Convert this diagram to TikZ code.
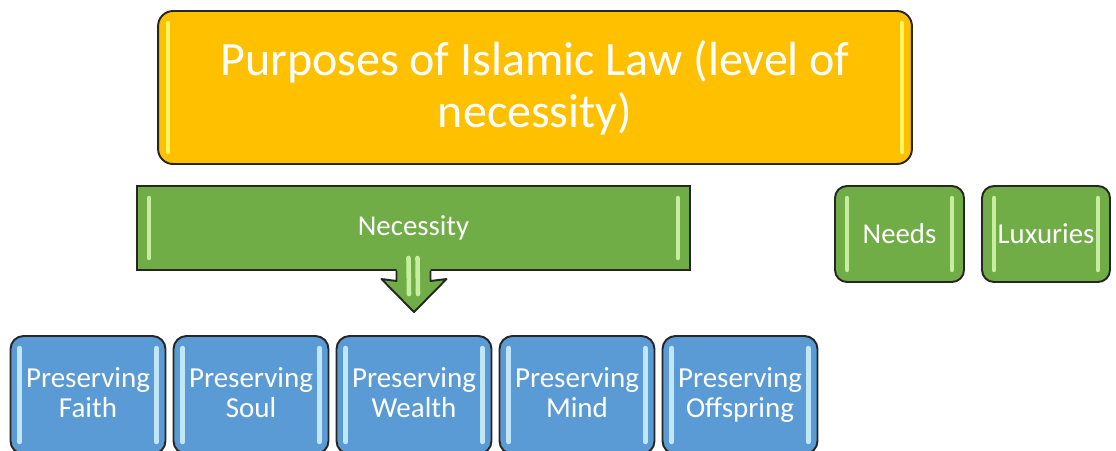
\documentclass[tikz,border=0pt]{standalone}
\usepackage{fontspec}
\setmainfont{Carlito}
\usetikzlibrary{calc}

\definecolor{goldbox}{HTML}{FFC000}
\definecolor{greenbox}{HTML}{70AD47}
\definecolor{bluebox}{HTML}{5B9BD5}
\definecolor{goldglint}{HTML}{FFFF70}
\definecolor{greenglint}{HTML}{D8F8B0}
\definecolor{blueglint}{HTML}{D4F4FF}

\tikzset{
	box/.style={draw=black!85, line width=1.1pt, text=white, align=center, inner sep=0pt},
	title/.style={box, fill=goldbox, rounded corners=0.3cm, minimum width=15.08cm, minimum height=3.06cm, font=\fontsize{27.3}{29.7}\selectfont},
	level/.style={box, fill=greenbox, font=\fontsize{16.4}{17.6}\selectfont},
	purpose/.style={box, fill=bluebox, rounded corners=0.26cm, minimum width=3.1cm, minimum height=2.36cm, font=\fontsize{16.5}{17.6}\selectfont},
	glint/.style={line width=2.6pt, line cap=round, opacity=0.85},
}

% light bevel bars inside a box: node, colour, inset
\newcommand{\glints}[3]{
	\draw[glint, #2] ($(#1.north west)+(#3,13)$) -- ($(#1.south west)+(#3,-13)$);
	\draw[glint, #2] ($(#1.north east)+(-#3,13)$) -- ($(#1.south east)+(-#3,-13)$);
}

\begin{document}
\begin{tikzpicture}[x=0.02cm, y=-0.02cm]
	\useasboundingbox (0,0) rectangle (1116,450);

	%title
	\node[title] (law) at (535, 87.5) {Purposes of Islamic Law (level of\\necessity)};
	\glints{law}{goldglint}{11}

	%levels
	\node[level, minimum width=11.06cm, minimum height=1.68cm] (nec) at (413.5, 228) {Necessity};
	\glints{nec}{greenglint}{13}
	\node[level, rounded corners=0.24cm, minimum width=2.58cm, minimum height=1.92cm] (needs) at (899.5, 234) {Needs};
	\glints{needs}{greenglint}{13}
	\node[level, rounded corners=0.24cm, minimum width=2.56cm, minimum height=1.92cm] (lux) at (1046, 234) {Luxuries};
	\glints{lux}{greenglint}{13}

	%purposes under necessity
	\foreach \name/\what [count=\i from 0] in {faith/Faith, soul/Soul, wealth/Wealth, mind/Mind, offspring/Offspring}{
		\node[purpose] (\name) at (88+163*\i, 395) {Preserving\\\what\vphantom{g}};
		\glints{\name}{blueglint}{10}
	}

	%block arrow
	\coordinate (tip) at ($(wealth.north)+(0,-23)$);
	\fill[greenbox] ($(nec.south)+(-17,-15)$) -- ($(nec.south)+(-17,10)$) -- ($(tip)+(-32.5,-33)$)
		-- (tip) -- ($(tip)+(32.5,-33)$) -- ($(nec.south)+(17,10)$) -- ($(nec.south)+(17,-15)$) -- cycle;
	\draw[glint, greenglint] ($(nec.south)+(-5,-13)$) -- ($(tip)+(-5,-18)$);
	\draw[glint, greenglint] ($(nec.south)+(4,-13)$) -- ($(tip)+(4,-18)$);
	\draw[line width=1.1pt, black!85, line join=round] ($(nec.south)+(-17,0)$) -- ($(nec.south)+(-17,10)$) -- ($(tip)+(-32.5,-33)$)
		-- (tip) -- ($(tip)+(32.5,-33)$) -- ($(nec.south)+(17,10)$) -- ($(nec.south)+(17,0)$);
\end{tikzpicture}
\end{document}
